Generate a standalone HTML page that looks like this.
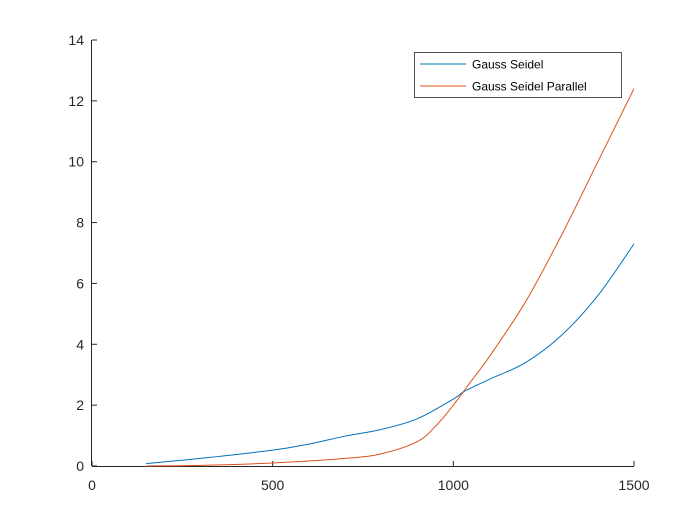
<!DOCTYPE html>
<html><head><meta charset="utf-8"><style>
body{margin:0;background:#fff;}
svg{display:block;font-family:"Liberation Sans",Arial,sans-serif;}
</style></head><body>
<svg id="chart" width="700" height="525" viewBox="0 0 700 525">
<rect width="700" height="525" fill="#fff"/>
<g id="axes"></g>
<g id="series"></g>
<g>
<rect x="414.5" y="52.5" width="207" height="45" fill="#fff" stroke="#262626" stroke-width="0.8"/>
<line x1="420" y1="64" x2="466" y2="64" stroke="#0072BD" stroke-width="1"/>
<text x="472" y="68.5" font-size="12" fill="#000">Gauss Seidel</text>
<line x1="420" y1="86" x2="466" y2="86" stroke="#D95319" stroke-width="1"/>
<text x="472" y="90.5" font-size="12" fill="#000">Gauss Seidel Parallel</text>
</g>
</svg>
<script>
const xTicks=[0,500,1000,1500];
const yTicks=[0,2,4,6,8,10,12,14];
const xs=[150,300,500,600,700,800,900,1000,1030,1100,1200,1300,1400,1500];
const gaussSeidel=[0.08,0.25,0.52,0.72,0.98,1.2,1.55,2.2,2.45,2.85,3.4,4.3,5.6,7.3];
const xs2=[150,300,500,700,800,900,950,1000,1050,1100,1200,1300,1400,1500];
const gaussSeidelParallel=[0,0.02,0.1,0.25,0.4,0.8,1.3,2.0,2.8,3.6,5.4,7.6,10,12.4];
const NS='http://www.w3.org/2000/svg';
const X=v=>92+v*(634-92)/1500;
const Y=v=>466-v*(466-40)/14;
const axes=document.getElementById('axes');
function mk(t,a,p){const e=document.createElementNS(NS,t);for(const k in a)e.setAttribute(k,a[k]);p.appendChild(e);return e;}
const xa=mk('line',{x1:92,y1:466.5,x2:634,y2:466.5,stroke:'#262626','stroke-width':1},axes);


const ya=mk('line',{x1:91.5,y1:40,x2:91.5,y2:466,stroke:'#262626','stroke-width':1},axes);


xTicks.forEach(v=>{
 const t=mk('line',{x1:X(v),y1:466,x2:X(v),y2:461,stroke:'#262626'},axes);
 
 
 const l=mk('text',{x:X(v),y:490,'font-size':14,'text-anchor':'middle',fill:'#262626'},axes);l.textContent=v;
 
 
});
yTicks.forEach(v=>{
 const t=mk('line',{x1:92,y1:Y(v),x2:97,y2:Y(v),stroke:'#262626'},axes);
 
 
 const l=mk('text',{x:84,y:Y(v)+5,'font-size':14,'text-anchor':'end',fill:'#262626'},axes);l.textContent=v;
 
 
});
function smooth(xv,yv){
 const p=xv.map((x,i)=>[X(x),Y(yv[i])]);
 let d='M'+p[0][0]+','+p[0][1];
 for(let i=0;i<p.length-1;i++){
  const p0=p[Math.max(0,i-1)],p1=p[i],p2=p[i+1],p3=p[Math.min(p.length-1,i+2)];
  const c1=[p1[0]+(p2[0]-p0[0])/6,p1[1]+(p2[1]-p0[1])/6];
  const c2=[p2[0]-(p3[0]-p1[0])/6,p2[1]-(p3[1]-p1[1])/6];
  d+=' C'+c1+' '+c2+' '+p2;
 }
 return d;
}
const s=document.getElementById('series');
const a=mk('path',{d:smooth(xs,gaussSeidel),fill:'none',stroke:'#0072BD','stroke-width':1},s);


const b=mk('path',{d:smooth(xs2,gaussSeidelParallel),fill:'none',stroke:'#D95319','stroke-width':1},s);


</script>
</body></html>
